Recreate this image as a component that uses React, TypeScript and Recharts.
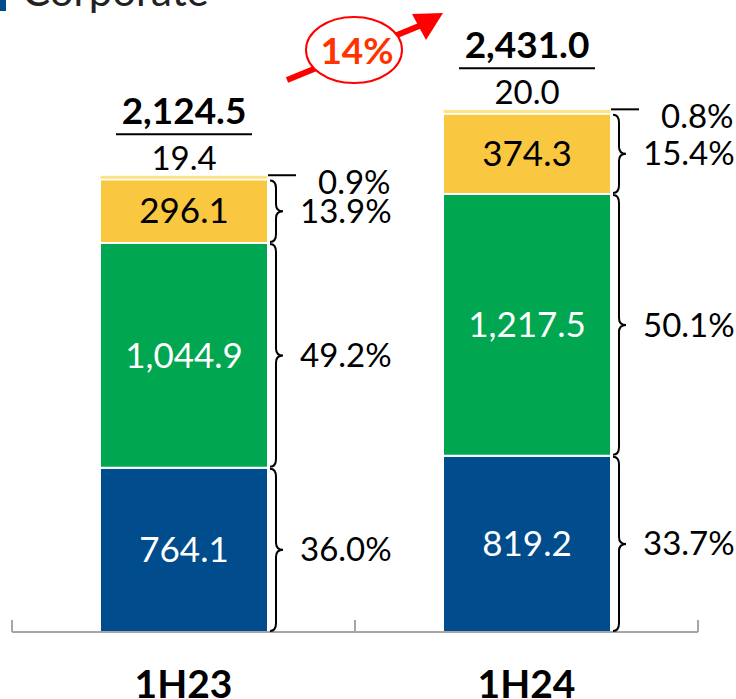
import { BarChart, Bar, XAxis, YAxis, LabelList, Customized } from 'recharts';

const categories = ['1H23', '1H24'];
const corporate = [764.1, 819.2];
const segment2 = [1044.9, 1217.5];
const segment3 = [296.1, 374.3];
const segment4 = [19.4, 20.0];
const totals = [2124.5, 2431.0];
const share1 = ['36.0%', '33.7%'];
const share2 = ['49.2%', '50.1%'];
const share3 = ['13.9%', '15.4%'];
const share4 = ['0.9%', '0.8%'];
const growth = '14%';

const data = categories.map((c, i) => ({
  name: c,
  s1: corporate[i],
  s2: segment2[i],
  s3: segment3[i],
  s4: segment4[i],
}));

const W = 736;
const H = 699;
const MARGIN = { top: 30, right: 38, bottom: 7, left: 12 };
const HALF_BAND = (W - MARGIN.left - MARGIN.right) / categories.length / 2;
const FONT = 'Lato, "Open Sans", sans-serif';

const fmt = (v: number) =>
  v.toLocaleString('en-US', { minimumFractionDigits: 1, maximumFractionDigits: 1 });

function box(p: any) {
  const v = p.viewBox ?? p;
  return { x: Number(v.x), y: Number(v.y), w: Number(v.width), h: Number(v.height) };
}

const inside = (color: string) => (p: any) => {
  const { x, y, w, h } = box(p);
  return (
    <text x={x + w / 2} y={y + h / 2} dy="0.35em" textAnchor="middle" fill={color} fontSize={35} fontFamily={FONT}>
      {fmt(Number(p.value))}
    </text>
  );
};

const brace = (shares: string[]) => (p: any) => {
  const { x, y, w, h } = box(p);
  const x0 = x + w + 2;
  const y0 = y + 1;
  const y1 = y + h - 1;
  const m = (y0 + y1) / 2;
  const d = `M${x0},${y0} Q${x0 + 6},${y0} ${x0 + 6},${y0 + 8} L${x0 + 6},${m - 7} Q${x0 + 6},${m} ${x0 + 13},${m} Q${x0 + 6},${m} ${x0 + 6},${m + 7} L${x0 + 6},${y1 - 8} Q${x0 + 6},${y1} ${x0},${y1}`;
  return (
    <g>
      <path d={d} fill="none" stroke="#000" strokeWidth={2} />
      <text x={x0 + 30} y={m} dy="0.35em" fontSize={33} fontFamily={FONT} fill="#000">
        {shares[p.index]}
      </text>
    </g>
  );
};

const topLabels = (p: any) => {
  const { x, y, w, h } = box(p);
  const cx = x + w / 2;
  const i = p.index;
  return (
    <g fontFamily={FONT} fill="#000">
      <line x1={x + w} y1={y} x2={x + w + 28} y2={y} stroke="#000" strokeWidth={2} />
      <text x={x + w + 50} y={y + h / 2 + 5} dy="0.35em" fontSize={33}>{share4[i]}</text>
      <text x={cx} y={y - 17} dy="0.35em" textAnchor="middle" fontSize={33}>{fmt(Number(p.value))}</text>
      <line x1={cx - 68} y1={y - 41} x2={cx + 68} y2={y - 41} stroke="#000" strokeWidth={2} />
      <text x={cx} y={y - 64} dy="0.35em" textAnchor="middle" fontSize={37} fontWeight="bold">{fmt(totals[i])}</text>
    </g>
  );
};

const CategoryTick = (p: any) => {
  const { x, y, index, payload } = p;
  return (
    <g>
      <line x1={x - HALF_BAND} y1={y} x2={x - HALF_BAND} y2={y - 12} stroke="#A6A6A6" strokeWidth={2} />
      {index === categories.length - 1 && (
        <line x1={x + HALF_BAND} y1={y} x2={x + HALF_BAND} y2={y - 12} stroke="#A6A6A6" strokeWidth={2} />
      )}
      <text x={x} y={y + 52} dy="0.35em" textAnchor="middle" fontSize={39} fontWeight="bold" fontFamily={FONT} fill="#000">
        {payload.value}
      </text>
    </g>
  );
};

const Annotations = () => (
  <g>
    <rect x={0} y={-4} width={6} height={15} fill="#004C8C" />
    <text x={22} y={6} fontSize={42} fontFamily={FONT} fill="#222">Corporate</text>
    <line x1={287} y1={80} x2={424} y2={24} stroke="#FF0000" strokeWidth={6} />
    <polygon points="443,13 412,14 426,40" fill="#FF0000" />
    <ellipse cx={354} cy={50} rx={48} ry={33} fill="#fff" stroke="#FF0000" strokeWidth={2} />
    <text x={357} y={51} dy="0.35em" textAnchor="middle" fontSize={37} fontWeight="bold" fontFamily={FONT} fill="#FF3300">
      {growth}
    </text>
  </g>
);

export default function App() {
  return (
    <div style={{ position: 'absolute', left: 0, top: 0, background: '#fff' }}>
      <BarChart width={W} height={H} data={data} margin={MARGIN} barSize={168}>
        <XAxis
          dataKey="name"
          axisLine={{ stroke: '#A6A6A6', strokeWidth: 2 }}
          tickLine={false}
          tickSize={0}
          tickMargin={0}
          height={60}
          tick={<CategoryTick />}
          interval={0}
        />
        <YAxis hide domain={[0, 2800]} />
        <Bar dataKey="s1" stackId="a" fill="#004C8C" stroke="#fff" strokeWidth={2} isAnimationActive={false}>
          <LabelList dataKey="s1" content={inside('#fff')} />
          <LabelList dataKey="s1" content={brace(share1)} />
        </Bar>
        <Bar dataKey="s2" stackId="a" fill="#00A650" stroke="#fff" strokeWidth={2} isAnimationActive={false}>
          <LabelList dataKey="s2" content={inside('#fff')} />
          <LabelList dataKey="s2" content={brace(share2)} />
        </Bar>
        <Bar dataKey="s3" stackId="a" fill="#F9C740" stroke="#fff" strokeWidth={2} isAnimationActive={false}>
          <LabelList dataKey="s3" content={inside('#000')} />
          <LabelList dataKey="s3" content={brace(share3)} />
        </Bar>
        <Bar dataKey="s4" stackId="a" fill="#FFE38A" stroke="#fff" strokeWidth={1} isAnimationActive={false}>
          <LabelList dataKey="s4" content={topLabels} />
        </Bar>
        <Customized component={Annotations} />
      </BarChart>
    </div>
  );
}
